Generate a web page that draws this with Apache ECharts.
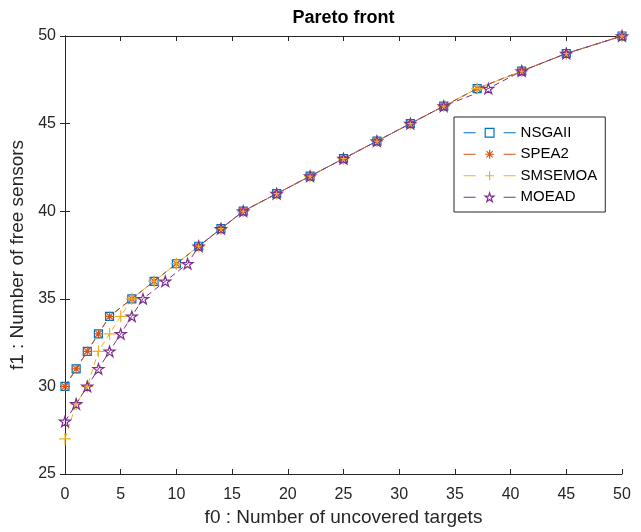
<!DOCTYPE html>
<html>
<head>
<meta charset="utf-8">
<script src="https://cdn.jsdelivr.net/npm/echarts@6/dist/echarts.min.js"></script>
<style>
  html, body { margin: 0; padding: 0; background: #ffffff; }
  #chart { width: 641px; height: 532px; }
</style>
</head>
<body>
<div id="chart"></div>
<script>
// f0 = uncovered targets, f1 = free sensors
const nsgaF0 = [0, 1, 2, 3, 4, 6, 8, 10, 12, 14, 16, 19, 22, 25, 28, 31, 34, 37, 41, 45, 50];
const nsgaF1 = [30, 31, 32, 33, 34, 35, 36, 37, 38, 39, 40, 41, 42, 43, 44, 45, 46, 47, 48, 49, 50];

const speaF0 = [0, 1, 2, 3, 4, 6, 8, 10, 12, 14, 16, 19, 22, 25, 28, 31, 34, 37, 41, 45, 50];
const speaF1 = [30, 31, 32, 33, 34, 35, 36, 37, 38, 39, 40, 41, 42, 43, 44, 45, 46, 47, 48, 49, 50];

const smsF0 = [0, 1, 2, 3, 4, 5, 6, 8, 10, 12, 14, 16, 19, 22, 25, 28, 31, 34, 37, 41, 45, 50];
const smsF1 = [27, 29, 30, 32, 33, 34, 35, 36, 37, 38, 39, 40, 41, 42, 43, 44, 45, 46, 47, 48, 49, 50];

const moeadF0 = [0, 1, 2, 3, 4, 5, 6, 7, 9, 11, 12, 14, 16, 19, 22, 25, 28, 31, 34, 38, 41, 45, 50];
const moeadF1 = [28, 29, 30, 31, 32, 33, 34, 35, 36, 37, 38, 39, 40, 41, 42, 43, 44, 45, 46, 47, 48, 49, 50];

const xTicks = { min: 0, max: 50, step: 5 };
const yTicks = { min: 25, max: 50, step: 5 };

const FONT = '"Liberation Sans", Arial, Helvetica, sans-serif';
const AXIS_COLOR = '#262626';

const pairs = (xs, ys) => xs.map((x, i) => [x, ys[i]]);

const SYM_PLUS = 'path://M5 0L5 10M0 5L10 5';
const SYM_ASTERISK = 'path://M5 0L5 10M0 5L10 5M1.46 1.46L8.54 8.54M1.46 8.54L8.54 1.46';
const SYM_STAR = 'path://M10 0L12.245 6.91L19.511 6.91L13.633 11.18L15.878 18.09L10 13.82L4.122 18.09L6.367 11.18L0.489 6.91L7.755 6.91Z';

function makeSeries(name, xs, ys, color, symbol, size) {
  return {
    name: name,
    type: 'line',
    data: pairs(xs, ys),
    symbol: symbol,
    symbolSize: size,
    symbolKeepAspect: true,
    showAllSymbol: true,
    lineStyle: { color: color, width: 1, type: [6, 4] },
    itemStyle: { color: 'rgba(0,0,0,0)', borderColor: color, borderWidth: 1.2 },
    emphasis: { disabled: true },
    animation: false
  };
}

const axisCommon = {
  type: 'value',
  axisLine: { show: true, lineStyle: { color: AXIS_COLOR, width: 1 } },
  axisTick: { show: true, inside: true, length: 5, lineStyle: { color: AXIS_COLOR } },
  splitLine: { show: false }
};

const chart = echarts.init(document.getElementById('chart'), null, { renderer: 'canvas' });
chart.setOption({
  backgroundColor: '#ffffff',
  textStyle: { fontFamily: FONT },
  title: {
    text: 'Pareto front',
    left: 343.5,
    top: 9,
    padding: 0,
    textAlign: 'center',
    textStyle: { fontFamily: FONT, fontSize: 18, fontWeight: 'bold', color: '#000000' }
  },
  grid: { left: 65, right: 19, top: 36, bottom: 58 },
  legend: {
    orient: 'vertical',
    left: 454,
    top: 117,
    padding: [8, 8, 7, 9],
    itemWidth: 52,
    itemHeight: 11,
    itemGap: 6,
    backgroundColor: '#ffffff',
    borderColor: AXIS_COLOR,
    borderWidth: 1,
    borderRadius: 0,
    itemStyle: { color: 'rgba(0,0,0,0)', borderWidth: 1.2 },
    lineStyle: { width: 1.2, type: [12, 28] },
    textStyle: { fontFamily: FONT, fontSize: 15, lineHeight: 15.5, color: '#000000' },
    data: ['NSGAII', 'SPEA2', 'SMSEMOA', 'MOEAD']
  },
  xAxis: [
    Object.assign({}, axisCommon, {
      position: 'bottom',
      min: xTicks.min, max: xTicks.max, interval: xTicks.step,
      name: 'f0 : Number of uncovered targets',
      nameLocation: 'middle',
      nameGap: 34,
      nameTextStyle: { fontFamily: FONT, fontSize: 19, color: AXIS_COLOR },
      axisLabel: { fontFamily: FONT, fontSize: 16, color: AXIS_COLOR, margin: 13 }
    }),
    Object.assign({}, axisCommon, {
      position: 'top',
      min: xTicks.min, max: xTicks.max, interval: xTicks.step,
      axisLabel: { show: false }
    })
  ],
  yAxis: [
    Object.assign({}, axisCommon, {
      position: 'left',
      min: yTicks.min, max: yTicks.max, interval: yTicks.step,
      name: 'f1 : Number of free sensors',
      nameLocation: 'middle',
      nameGap: 35,
      nameTextStyle: { fontFamily: FONT, fontSize: 19, color: AXIS_COLOR },
      axisLabel: { fontFamily: FONT, fontSize: 16, color: AXIS_COLOR, margin: 9 }
    }),
    Object.assign({}, axisCommon, {
      position: 'right',
      min: yTicks.min, max: yTicks.max, interval: yTicks.step,
      axisLabel: { show: false }
    })
  ],
  series: [
    makeSeries('NSGAII', nsgaF0, nsgaF1, '#0072BD', 'rect', 8),
    makeSeries('SPEA2', speaF0, speaF1, '#D95319', SYM_ASTERISK, 9),
    makeSeries('SMSEMOA', smsF0, smsF1, '#EDB120', SYM_PLUS, 12),
    makeSeries('MOEAD', moeadF0, moeadF1, '#7E2F8E', SYM_STAR, 11)
  ]
});
</script>
</body>
</html>
